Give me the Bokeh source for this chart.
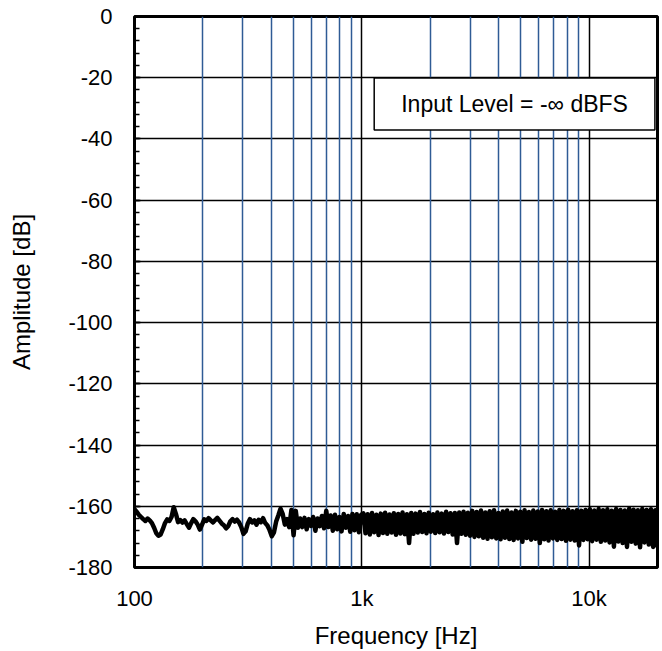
import numpy as np
from bokeh.plotting import figure
from bokeh.models import FixedTicker, Grid, Label, Range1d, ColumnDataSource, CustomJSTickFormatter
from bokeh.embed import file_html
from bokeh.resources import INLINE

# ---- data ----
X_TICKS = [100, 1000, 10000]
X_MINOR = [200, 300, 400, 500, 600, 700, 800, 900,
           2000, 3000, 4000, 5000, 6000, 7000, 8000, 9000]
Y_TICKS = [0, -20, -40, -60, -80, -100, -120, -140, -160, -180]
Y_MINOR = list(range(-180, 1, 4))

# noise floor amplitude (dB), sampled on a log-spaced frequency grid 100 Hz .. 20 kHz
AMP_LOW = [
    -161.0, -161.8, -162.8, -163.5, -164.2, -164.8, -164.0, -164.6, -165.5, -167.0,
    -168.8, -169.6, -169.2, -167.5, -165.5, -164.3, -164.8, -163.5, -160.3, -162.5,
    -165.2, -164.5, -165.3, -164.6, -165.8, -167.0, -165.5, -164.2, -164.9, -166.0,
    -167.6, -166.0, -164.3, -164.8, -163.9, -164.6, -165.3, -164.5, -163.8, -164.7,
    -165.6, -166.2, -167.2, -166.5, -164.9, -164.2, -165.0, -164.4, -165.3, -166.8,
    -169.0, -168.2, -165.6, -164.2, -165.3, -164.6, -166.0, -164.4, -165.2, -163.9,
    -165.5, -166.3, -167.8, -169.8, -168.5, -165.0, -163.0, -160.8, -162.5, -166.0,
    -164.2, -166.8, -161.2, -169.5, -161.5, -167.0, -164.0, -166.8, -163.8, -167.5,
    -164.2, -166.4, -163.5, -168.0, -164.0, -166.5, -163.2, -167.2, -161.5, -166.8,
    -163.0, -168.0, -162.8, -167.5, -163.5, -168.2, -162.5, -167.0, -163.2, -168.3,
    -162.5, -167.8, -162.6, -168.5, -162.8,
]
AMP_HIGH = [
    -162.3, -168.8, -162.6, -169.2, -162.2, -168.5, -162.8, -169.4, -162.4, -168.7,
    -162.1, -169.0, -162.7, -168.6, -162.3, -169.3, -162.5, -168.9, -162.0, -169.1,
    -162.6, -172.0, -162.2, -169.0, -162.4, -168.6, -161.9, -168.4, -162.5, -168.8,
    -162.1, -168.3, -162.6, -168.7, -162.0, -168.5, -162.4, -168.9, -161.8, -168.4,
    -162.3, -169.2, -162.2, -172.0, -162.0, -169.0, -161.8, -169.3, -162.1, -169.6,
    -161.5, -170.0, -161.9, -169.8, -161.4, -170.3, -162.0, -170.6, -161.6, -170.1,
    -161.3, -170.5, -162.2, -170.8, -161.7, -170.3, -161.4, -170.7, -162.0, -171.0,
    -161.5, -170.5, -161.8, -171.6, -161.3, -170.4, -161.9, -170.9, -161.4, -170.6,
    -161.7, -172.0, -161.2, -170.8, -161.6, -171.2, -161.3, -170.5, -161.8, -171.0,
    -161.2, -170.7, -161.5, -171.3, -161.1, -170.9, -161.6, -171.2, -161.3, -172.8,
    -161.5, -171.0, -161.2, -170.8, -161.0, -171.4, -161.4, -170.9, -160.9, -171.6,
    -161.3, -171.2, -161.0, -171.8, -161.5, -173.2, -160.9, -171.5, -161.2, -172.0,
    -161.4, -173.3, -160.8, -171.6, -161.1, -172.2, -161.3, -173.4, -160.9, -171.8,
    -161.2, -172.5, -161.0, -173.3, -161.3, -173.4,
]
AMP_DB = AMP_LOW + AMP_HIGH
FREQ_HZ = np.geomspace(100, 20000, len(AMP_DB))

LABEL_TEXT = "Input Level = -\u221e dBFS"

FONT = "Liberation Sans"

p = figure(width=662, height=651, x_axis_type="log",
           x_range=Range1d(100, 20000), y_range=Range1d(-180, 0),
           output_backend="svg", toolbar_location=None,
           min_border_left=134, min_border_right=5, min_border_top=16, min_border_bottom=81)

p.background_fill_color = "white"
p.border_fill_color = "white"
p.outline_line_color = "black"
p.outline_line_width = 3

# x axis
p.xaxis.ticker = FixedTicker(ticks=X_TICKS, minor_ticks=[])
p.xaxis.formatter = CustomJSTickFormatter(code="return tick >= 1000 ? (tick/1000) + 'k' : tick.toString();")
p.xaxis.axis_label = "Frequency [Hz]"
p.xaxis.major_tick_out = 0
p.xaxis.major_tick_in = 0
p.xaxis.minor_tick_out = 0
p.xaxis.minor_tick_in = 0
p.xaxis.axis_line_color = None
p.xaxis.major_label_standoff = 18
p.xaxis.axis_label_standoff = 8

# y axis
p.yaxis.ticker = FixedTicker(ticks=Y_TICKS, minor_ticks=Y_MINOR)
p.yaxis.formatter = CustomJSTickFormatter(code="return tick.toString();")
p.yaxis.axis_label = "Amplitude [dB]"
p.yaxis.major_tick_out = 0
p.yaxis.major_tick_in = 6
p.yaxis.minor_tick_out = 0
p.yaxis.minor_tick_in = 5
p.yaxis.major_tick_line_width = 1.5
p.yaxis.minor_tick_line_width = 1.5
p.yaxis.axis_line_color = None
p.yaxis.major_label_standoff = 22
p.yaxis.axis_label_standoff = 30

for ax in (p.xaxis, p.yaxis):
    ax.major_label_text_font = FONT
    ax.major_label_text_font_size = "22px"
    ax.major_label_text_color = "black"
    ax.axis_label_text_font = FONT
    ax.axis_label_text_font_size = "24px"
    ax.axis_label_text_font_style = "normal"
    ax.axis_label_text_color = "black"

# grids
p.xgrid.ticker = FixedTicker(ticks=[1000, 10000])
p.xgrid.grid_line_color = "black"
p.xgrid.grid_line_width = 1.5
p.ygrid.ticker = FixedTicker(ticks=Y_TICKS)
p.ygrid.grid_line_color = "black"
p.ygrid.grid_line_width = 1.5
minor_grid = Grid(dimension=0, ticker=FixedTicker(ticks=X_MINOR),
                  grid_line_color="#2f5b95", grid_line_width=1.5)
p.add_layout(minor_grid)

src = ColumnDataSource(data=dict(f=FREQ_HZ, a=AMP_DB))
p.line("f", "a", source=src, line_color="black", line_width=4.5, line_join="round")

lbl = Label(x=4700, y=-28.6, text=LABEL_TEXT, text_align="center", text_baseline="middle",
            text_font=FONT, text_font_size="23px", text_color="black",
            background_fill_color="white", border_line_color="black", border_line_width=1.5,
            padding=(27, 13))
p.add_layout(lbl)

open("out.html", "w").write(file_html(p, INLINE))
